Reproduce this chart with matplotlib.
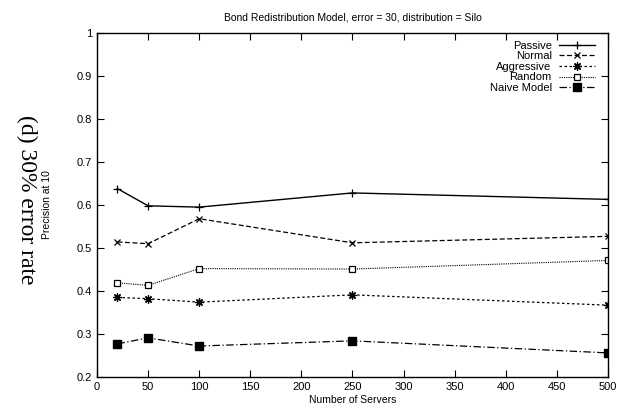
import matplotlib
matplotlib.use('Agg')
import matplotlib.pyplot as plt

# data
servers = [20, 50, 100, 250, 500]
passive = [0.638, 0.598, 0.595, 0.628, 0.613]
normal = [0.514, 0.510, 0.568, 0.512, 0.527]
aggressive = [0.385, 0.382, 0.374, 0.391, 0.367]
random_sel = [0.419, 0.413, 0.452, 0.451, 0.471]
naive = [0.277, 0.291, 0.272, 0.284, 0.256]

plt.rcParams['font.family'] = ['Liberation Sans', 'DejaVu Sans']

fig = plt.figure(figsize=(6.26, 4.12), dpi=100)
ax = fig.add_axes([0.155, 0.085, 0.816, 0.835])

ax.plot(servers, passive, color='black', lw=1.0, ls='-', marker='+', ms=6, mew=0.9, label='Passive')
ax.plot(servers, normal, color='black', lw=0.9, ls=(0, (4, 2)), marker='x', ms=5, mew=0.9, label='Normal')
ax.plot(servers, aggressive, color='black', lw=0.9, ls=(0, (2, 2)), marker=(8, 2, 0), ms=6, mew=0.9, label='Aggressive')
ax.plot(servers, random_sel, color='black', lw=0.8, ls=(0, (1, 1)), marker='s', ms=5, mfc='white', mew=0.9, label='Random')
ax.plot(servers, naive, color='black', lw=0.9, ls=(0, (6, 2, 1, 2)), marker='s', ms=6, label='Naive Model')

ax.set_xlim(0, 500)
ax.set_ylim(0.2, 1)
ax.set_xticks(range(0, 501, 50))
ax.set_yticks([0.2, 0.3, 0.4, 0.5, 0.6, 0.7, 0.8, 0.9, 1.0])
ax.set_yticklabels(['0.2', '0.3', '0.4', '0.5', '0.6', '0.7', '0.8', '0.9', '1'])
ax.tick_params(direction='in', top=True, right=True, labelsize=8, length=5, width=0.8)
for s in ax.spines.values():
    s.set_linewidth(1.0)

ax.set_xlabel('Number of Servers', fontsize=7.5, labelpad=2)
ax.set_ylabel('Precision at 10', fontsize=7.5, labelpad=18)
ax.set_title('Bond Redistribution Model, error = 30, distribution = Silo', fontsize=7.5, pad=9)

ax.legend(loc='upper right', markerfirst=False, frameon=False, fontsize=8,
          handlelength=3.2, labelspacing=0.05, handletextpad=0.7,
          borderaxespad=0.3, bbox_to_anchor=(0.99, 1.0))

fig.text(0.042, 0.515, '(d) 30% error rate', rotation=-90, fontsize=17,
         family=['Liberation Serif', 'DejaVu Serif'], ha='center', va='center')

fig.savefig('out.png', dpi=100)
